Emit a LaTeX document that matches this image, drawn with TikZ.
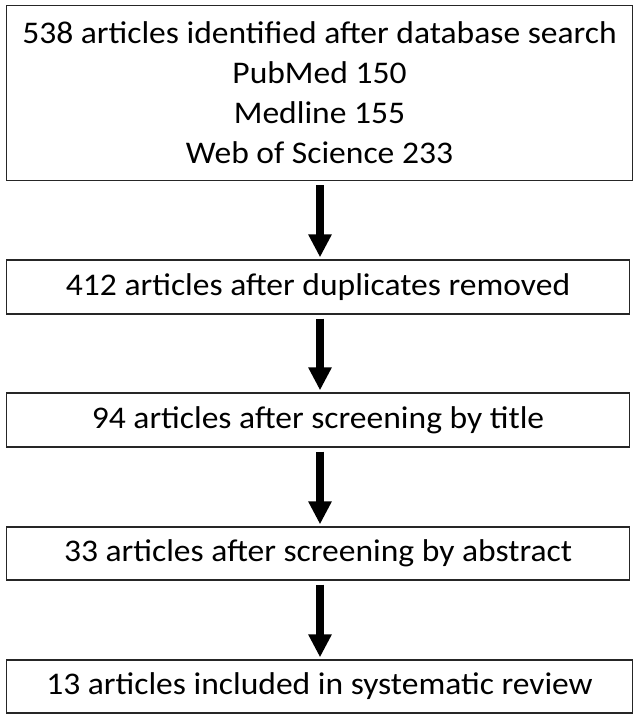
\documentclass[tikz,border=0pt]{standalone}
\usepackage{fontspec}
\setmainfont{Carlito}[FakeStretch=1.065]
\usetikzlibrary{arrows.meta}
\tikzset{
  boxnode/.style={draw=black!85, line width=1.3pt, fill=white, align=center, inner sep=0pt,
    font=\fontsize{31.5}{40}\selectfont},
  flowarrow/.style={line width=8pt, -{Triangle[width=22pt,length=23pt]}, shorten <=4pt, shorten >=2pt}
}
\begin{document}
\begin{tikzpicture}[x=1pt,y=-1pt]
\useasboundingbox (0,0) rectangle (638,720);
\node[boxnode, minimum width=626pt, minimum height=175pt] (b1) at (319.5,93)
  {538 articles identified after database search\\PubMed 150\\Medline 155\\Web of Science 233};
\node[boxnode, minimum width=623pt, minimum height=54pt] (b2) at (318,287) {412 articles after duplicates removed};
\node[boxnode, minimum width=623pt, minimum height=54pt] (b3) at (318,420) {94 articles after screening by title};
\node[boxnode, minimum width=623pt, minimum height=53pt] (b4) at (318,553.5) {33 articles after screening by abstract};
\node[boxnode, minimum width=626pt, minimum height=53pt] (b5) at (319.5,686.5) {13 articles included in systematic review};
\draw[flowarrow] (b1.south -| 320,0) -- (b2.north -| 320,0);
\draw[flowarrow] (b2.south -| 320,0) -- (b3.north -| 320,0);
\draw[flowarrow] (b3.south -| 320,0) -- (b4.north -| 320,0);
\draw[flowarrow] (b4.south -| 320,0) -- (b5.north -| 320,0);
\end{tikzpicture}
\end{document}
